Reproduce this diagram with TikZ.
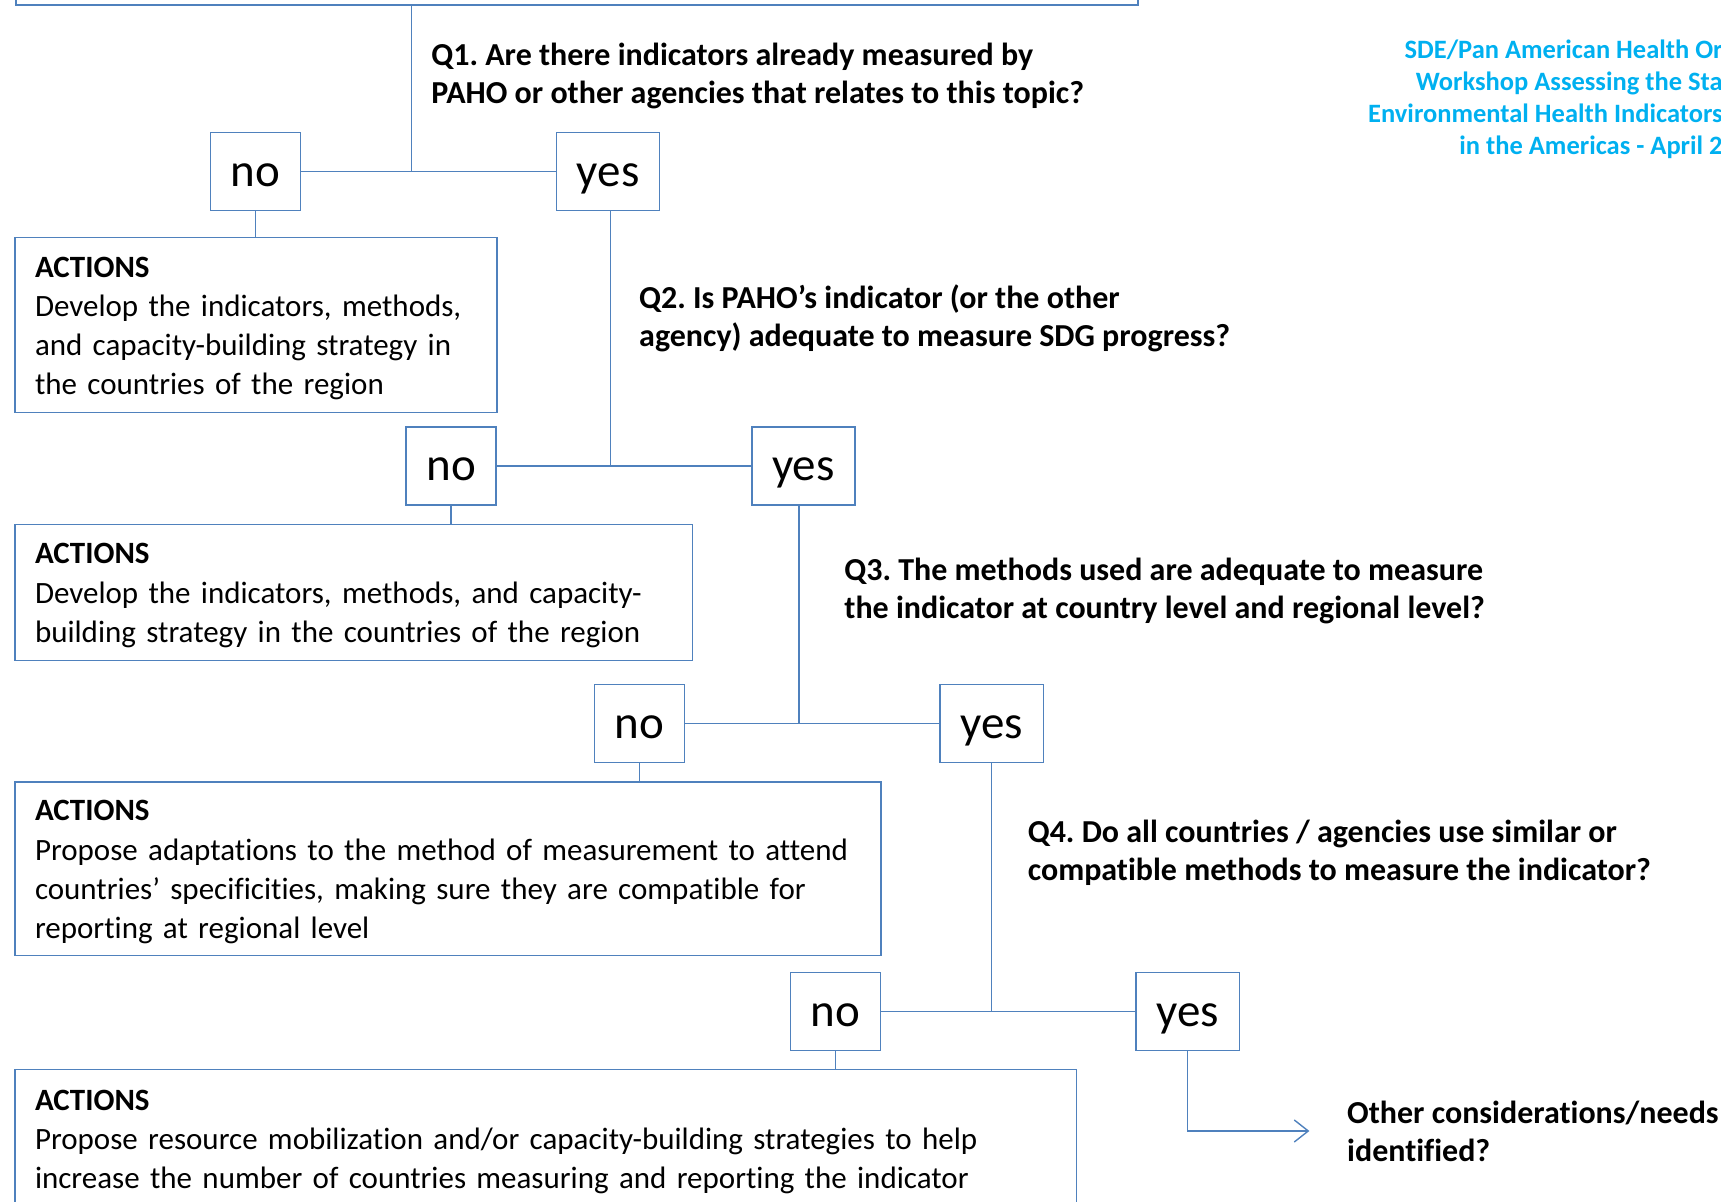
\documentclass[tikz,border=0pt]{standalone}
\usepackage{fontspec}
\setmainfont{Carlito}[Ligatures=NoCommon]
\usetikzlibrary{positioning,arrows.meta}
\definecolor{linecol}{RGB}{79,129,189}
\definecolor{titlecol}{RGB}{0,176,240}
\newcommand\topgap{\rule{0pt}{13.5pt}}
\frenchspacing

\begin{document}
\begin{tikzpicture}[x=0.5pt,y=-0.5pt,
nobox/.style={draw=linecol,line width=0.7pt,minimum width=45pt,minimum height=39pt,inner sep=0pt,text height=17pt,text depth=2pt,font=\fontsize{23.5}{27}\selectfont},
yesbox/.style={nobox,minimum width=51.6pt},
actbox/.style={draw=linecol,line width=0.7pt,anchor=north west,align=left,inner xsep=10pt,inner ysep=0pt,font=\fontsize{15.5}{19.6}\selectfont},
question/.style={anchor=west,align=left,inner sep=0pt,font=\bfseries\fontsize{16}{19.1}\selectfont},
link/.style={linecol,line width=0.7pt},
arr/.style={link,-{Straight Barb[length=7pt,width=11pt]}}]
\useasboundingbox (0,0) rectangle (1721,1202);

% header
\node[draw=linecol,line width=1pt,anchor=south west,minimum width=560.9pt,minimum height=60pt] (top) at (14.8,6) {};
\node[anchor=east,align=right,inner sep=0pt,text=titlecol,font=\bfseries\fontsize{13.25}{15.9}\selectfont] (title) at (1723,99.4)
  {SDE/Pan American Health Or\\Workshop Assessing the Sta\\Environmental Health Indicators\\in the Americas - April 2};

% questions
\node[question] (q1) at (431,76) {Q1. Are there indicators already measured by\\PAHO or other agencies that relates to this topic?};
\node[question] (q2) at (638.8,318.6) {Q2. Is PAHO’s indicator (or the other\\agency) adequate to measure SDG progress?};
\node[question] (q3) at (844,591.3) {Q3. The methods used are adequate to measure\\the indicator at country level and regional level?};
\node[question] (q4) at (1027.4,852.6) {Q4. Do all countries / agencies use similar or\\compatible methods to measure the indicator?};

% answers
\node[nobox] (no1) at (255.7,171.75) {no};
\node[yesbox] (yes1) at (608.1,171.75) {yes};
\node[nobox] (no2) at (451.1,466) {no};
\node[yesbox] (yes2) at (803.5,466) {yes};
\node[nobox] (no3) at (639.4,723.3) {no};
\node[yesbox] (yes3) at (991.7,723.3) {yes};
\node[nobox] (no4) at (835.3,1011.5) {no};
\node[yesbox] (yes4) at (1187.6,1011.5) {yes};

% actions
\node[actbox,minimum width=240.9pt,text width=220.9pt,minimum height=87.25pt] (act1) at (14.3,237.1)
  {\topgap\textbf{ACTIONS}\\Develop the indicators, methods,\\and capacity-building strategy in\\the countries of the region};
\node[actbox,minimum width=338.6pt,text width=318.6pt,minimum height=68pt] (act2) at (14.3,523.6)
  {\topgap\textbf{ACTIONS}\\Develop the indicators, methods, and capacity-\\building strategy in the countries of the region};
\node[actbox,minimum width=433pt,text width=413pt,minimum height=86.7pt] (act3) at (14.3,781.5)
  {\topgap\textbf{ACTIONS}\\Propose adaptations to the method of measurement to attend\\countries’ specificities, making sure they are compatible for\\reporting at regional level};
\node[actbox,minimum width=530.6pt,text width=510.6pt,minimum height=68.7pt] (act4) at (14.3,1069.1)
  {\topgap\textbf{ACTIONS}\\Propose resource mobilization and/or capacity-building strategies to help\\increase the number of countries measuring and reporting the indicator};

\node[anchor=west,align=left,inner xsep=18.7pt,inner ysep=0pt,font=\bfseries\fontsize{16}{19.1}\selectfont] (other) at (1309.4,1131)
  {Other considerations/needs\\identified?};

% connectors
\coordinate (j1) at (411.6,171.75);
\draw[link] (top.south -| j1) -- (j1);
\draw[link] (no1) -- (yes1);
\draw[link] (no1.south) -- (no1.south |- act1.north);
\draw[link] ([xshift=1.1pt]yes1.south) -- ([xshift=1.1pt]yes1.south |- no2);
\draw[link] (no2) -- (yes2);
\draw[link] (no2.south) -- (no2.south |- act2.north);
\draw[link] ([xshift=-2.3pt]yes2.south) -- ([xshift=-2.3pt]yes2.south |- no3);
\draw[link] (no3) -- (yes3);
\draw[link] (no3.south) -- (no3.south |- act3.north);
\draw[link] (yes3.south) -- (yes3.south |- no4);
\draw[link] (no4) -- (yes4);
\draw[link] (no4.south) -- (no4.south |- act4.north);
\draw[arr] (yes4.south) |- (other.west);
\end{tikzpicture}
\end{document}
